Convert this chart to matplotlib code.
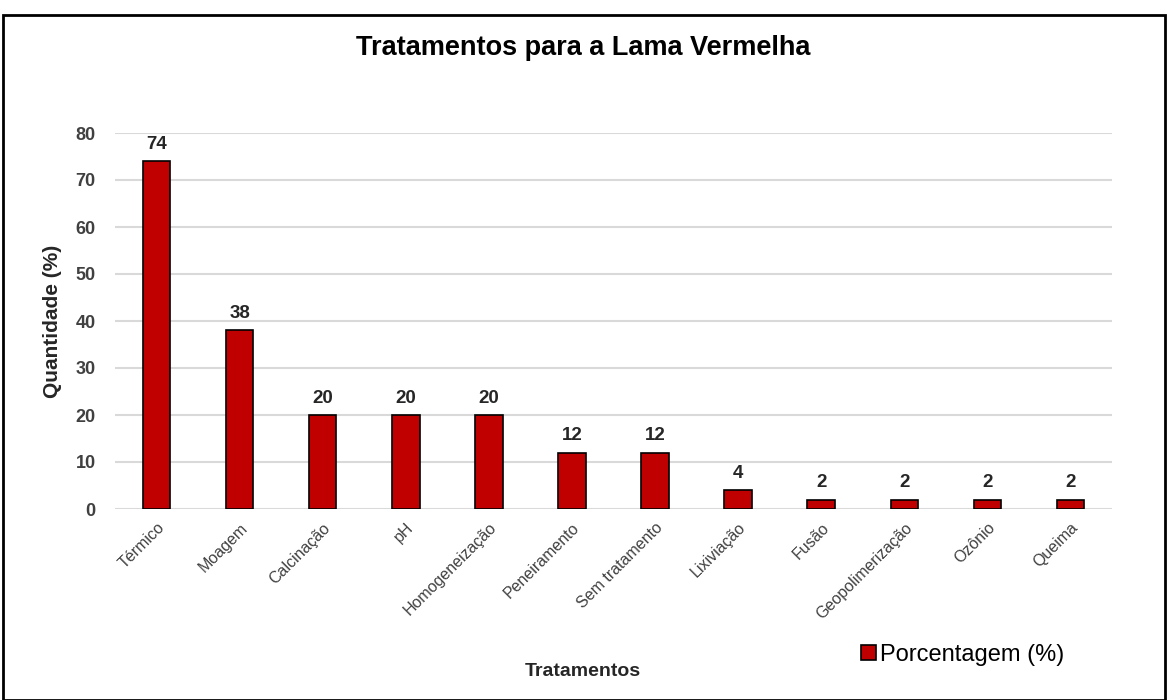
import matplotlib.pyplot as plt
from matplotlib.patches import Rectangle

categorias = ["Térmico", "Moagem", "Calcinação", "pH", "Homogeneização",
              "Peneiramento", "Sem tratamento", "Lixiviação", "Fusão",
              "Geopolimerização", "Ozônio", "Queima"]
porcentagem = [74, 38, 20, 20, 20, 12, 12, 4, 2, 2, 2, 2]
yticks = [0, 10, 20, 30, 40, 50, 60, 70, 80]

plt.rcParams['font.family'] = ['Liberation Sans', 'DejaVu Sans']

fig = plt.figure(figsize=(11.68, 7), dpi=100)
ax = fig.add_axes([115/1168, 1-509/700, (1112-115)/1168, (509-133)/700])

x = range(len(categorias))
bars = ax.bar(x, porcentagem, width=0.33, color='#c00000', edgecolor='black',
              linewidth=1.2, label='Porcentagem (%)', zorder=3)
for xi, v in zip(x, porcentagem):
    ax.annotate(str(v), (xi, v), xytext=(0, 6), textcoords='offset points',
                ha='center', va='bottom', fontsize=13.5, fontweight='bold', color='#262626')

ax.set_xlim(-0.5, len(categorias)-0.5)
ax.set_ylim(0, 80)
ax.set_yticks(yticks)
ax.set_yticklabels([str(t) for t in yticks], fontsize=13, fontweight='bold', color='#404040')
ax.set_xticks(list(x))
ax.set_xticklabels(categorias, rotation=45, ha='right', rotation_mode='anchor',
                   fontsize=11.5, color='#404040')
ax.tick_params(axis='y', length=0, pad=14)
ax.tick_params(axis='x', length=0, pad=8)
ax.grid(axis='y', color='#d9d9d9', linewidth=1.5, zorder=0)
for s in ax.spines.values():
    s.set_visible(False)

ax.set_ylabel('Quantidade (%)', fontsize=15, fontweight='bold', color='#262626', labelpad=10)
fig.text(583/1168, 1-672/700, 'Tratamentos', ha='center', va='center',
         fontsize=14, fontweight='bold', color='#262626')
fig.text(583/1168, 1-48/700, 'Tratamentos para a Lama Vermelha', ha='center', va='center',
         fontsize=19.5, fontweight='bold', color='black')

leg = fig.legend(handles=[bars], labels=['Porcentagem (%)'], loc='center',
                 bbox_to_anchor=(963/1168, 1-655/700), frameon=False, fontsize=17,
                 handlelength=0.6, handleheight=0.6, handletextpad=0.2)

fig.patches.append(Rectangle((3/1168, 0), 1162/1168, 1-15/700, transform=fig.transFigure,
                             fill=False, edgecolor='black', linewidth=2))

fig.savefig('out.png', dpi=100)
